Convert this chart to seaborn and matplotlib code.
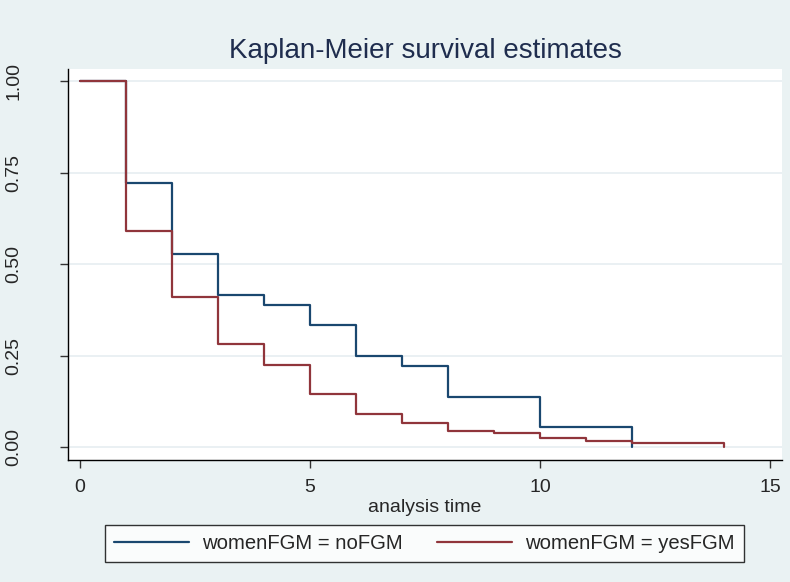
import matplotlib
matplotlib.use("Agg")
import matplotlib.pyplot as plt
import seaborn as sns
import pandas as pd
from matplotlib.lines import Line2D

# Data
no_time = [0, 1, 2, 3, 4, 5, 6, 7, 8, 10, 12]
no_surv = [1.0, 0.721, 0.527, 0.415, 0.388, 0.333, 0.249, 0.221, 0.137, 0.055, 0.0]
yes_time = [0, 1, 2, 3, 4, 5, 6, 7, 8, 9, 10, 11, 12, 14]
yes_surv = [1.0, 0.590, 0.410, 0.281, 0.225, 0.144, 0.089, 0.066, 0.045, 0.037, 0.024, 0.017, 0.012, 0.0]
group_labels = ["womenFGM = noFGM", "womenFGM = yesFGM"]
x_ticks = [0, 5, 10, 15]
y_ticks = [0.0, 0.25, 0.5, 0.75, 1.0]
y_ticklabels = ["0.00", "0.25", "0.50", "0.75", "1.00"]

df = pd.concat([
    pd.DataFrame({"time": no_time, "surv": no_surv, "group": group_labels[0]}),
    pd.DataFrame({"time": yes_time, "surv": yes_surv, "group": group_labels[1]}),
], ignore_index=True)

sns.set_theme(style="white")
plt.rcParams["font.family"] = ["Liberation Sans", "DejaVu Sans"]

BG = "#EAF2F3"
BLUE = "#1a476f"
RED = "#90353b"
fig = plt.figure(figsize=(7.9, 5.82), dpi=100, facecolor=BG)
ax = fig.add_axes([68 / 790, 1 - 460 / 582, (782 - 68) / 790, (460 - 69) / 582])
ax.set_facecolor("white")

ax.set_yticks(y_ticks)
for yv in y_ticks:
    ax.axhline(yv, color="#E6EEF1", lw=1.2, zorder=0)

sns.lineplot(data=df, x="time", y="surv", hue="group",
             palette={group_labels[0]: BLUE, group_labels[1]: RED},
             drawstyle="steps-post", estimator=None, sort=True, lw=1.6, ax=ax,
             legend=False)

ax.set_xlim(-0.26, 15.26)
ax.set_ylim(-0.0355, 1.033)
ax.set_xticks(x_ticks)
ax.set_xticklabels([str(v) for v in x_ticks], fontsize=14)
ax.set_yticklabels(y_ticklabels, fontsize=14, rotation=90, va="center")
ax.tick_params(axis="x", direction="out", length=6, width=1, color="#333333", pad=8, bottom=True)
ax.tick_params(axis="y", direction="out", length=6, width=1, color="#333333", pad=27, left=True)

for s in ["top", "right"]:
    ax.spines[s].set_visible(False)
for s in ["left", "bottom"]:
    ax.spines[s].set_color("black")
    ax.spines[s].set_linewidth(1.0)

ax.set_xlabel("analysis time", fontsize=14, labelpad=2)
ax.set_ylabel("")
ax.set_title("Kaplan-Meier survival estimates", fontsize=20, color="#1f2d4e", pad=8)

handles = [Line2D([], [], color=BLUE, lw=1.6), Line2D([], [], color=RED, lw=1.6)]
leg = fig.legend(handles, group_labels, loc="center", bbox_to_anchor=(424.5 / 790, 1 - 543.5 / 582),
                 ncol=2, fontsize=14.6, frameon=True, fancybox=False, handlelength=3.7,
                 handletextpad=0.65, columnspacing=1.7, borderpad=0.45)
leg.get_frame().set_edgecolor("black")
leg.get_frame().set_linewidth(1.0)
leg.get_frame().set_facecolor("white")

fig.savefig("out.png", dpi=100, facecolor=BG)
